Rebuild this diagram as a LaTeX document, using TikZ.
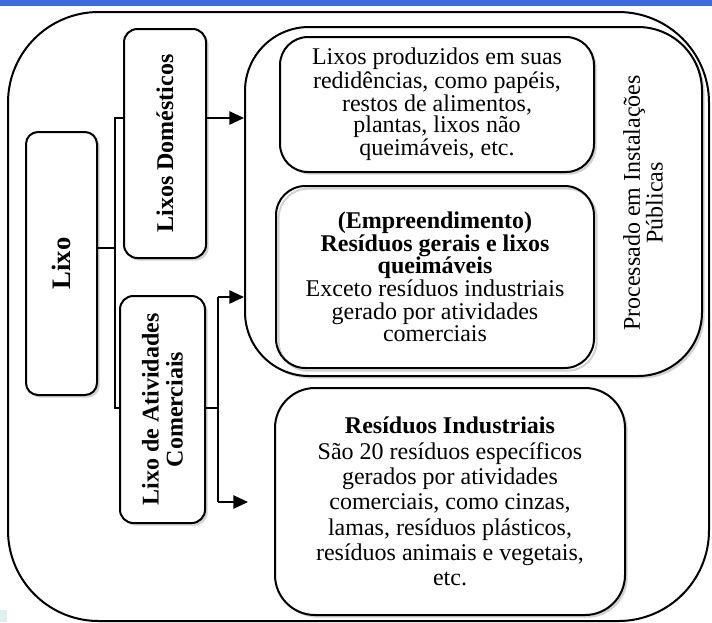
\documentclass[tikz,border=0pt]{standalone}
\usepackage{fontspec}
\setmainfont{Liberation Serif}
\usepackage{tikz}
\usetikzlibrary{shadows}
\usetikzlibrary{arrows.meta}

\definecolor{topblue}{RGB}{66,103,224}
\definecolor{patch}{RGB}{220,240,236}

\tikzset{
  box/.style={draw, line width=1.5pt, fill=white, rounded corners=#1,
    drop shadow={shadow xshift=2pt, shadow yshift=-2pt, fill=black!35}},
  ghostbox/.style={draw, line width=1.5pt, rounded corners=#1,
    drop shadow={shadow xshift=2pt, shadow yshift=-2pt, fill=none, draw=black!35, line width=1.5pt}},
  link/.style={line width=1.1pt},
  arrow/.style={line width=1.1pt, -{Triangle[length=11pt,width=10pt]}},
}

\begin{document}
\begin{tikzpicture}[x=0.75pt,y=0.75pt,yscale=-1,xscale=1]
\useasboundingbox (0,0) rectangle (712,622);

%Band on top
\fill[topblue] (0,0) rectangle (712,6);
%Patch bottom left
\fill[patch] (0,610) rectangle (7,622);

%Outer frame
\node[draw, line width=1.5pt, rounded corners=68pt, minimum width=525.75pt, minimum height=456.75pt] (frame) at (358.5,316.5) {};

%Rounded Rect: public processing
\node[box=48pt, minimum width=342.75pt, minimum height=261.75pt] (proc) at (473.5,201.5) {};
\node[rotate=90, align=center, font=\fontsize{18}{17}\selectfont] (proctxt) at (643,203) {Processado em Instalações\\Públicas};

%Rounded Rect: Lixo
\node[box=9pt, minimum width=53.25pt, minimum height=197.25pt] (lixo) at (61.5,263.5) {};
\node[rotate=90, font=\fontsize{20}{20}\selectfont\bfseries] (lixotxt) at (lixo) {Lixo};

%Rounded Rect: domestic
\node[box=10pt, minimum width=61.5pt, minimum height=171.75pt] (dom) at (165,143.5) {};
\node[rotate=90, font=\fontsize{18}{18}\selectfont\bfseries] (domtxt) at (dom) {Lixos Domésticos};

%Rounded Rect: commercial
\node[box=10pt, minimum width=63.75pt, minimum height=170.25pt] (com) at (162.5,409.5) {};
\node[rotate=90, align=center, font=\fontsize{18}{18}\selectfont\bfseries] (comtxt) at (com) {Lixo de Atividades\\Comerciais};

%Rounded Rect: households
\node[box=21pt, minimum width=235.5pt, minimum height=101.25pt, align=center, font=\fontsize{18}{16}\selectfont] (casa) at (437,104.5) {Lixos produzidos em suas\\redidências, como papéis,\\restos de alimentos,\\plantas, lixos não\\queimáveis, etc.};

%Rounded Rect: business
\node[ghostbox=22pt, minimum width=238.5pt, minimum height=136.5pt, align=center, font=\fontsize{18}{17}\selectfont] (empr) at (435,277) {\textbf{(Empreendimento)}\\\textbf{Resíduos gerais e lixos}\\\textbf{queimáveis}\\Exceto resíduos industriais\\gerado por atividades\\comerciais};

%Rounded Rect: industrial
\node[box=30pt, minimum width=262.5pt, minimum height=170.25pt, align=center, font=\fontsize{18}{19}\selectfont] (ind) at (450,501.5) {\textbf{Resíduos Industriais}\\São 20 resíduos específicos\\gerados por atividades\\comerciais, como cinzas,\\lamas, resíduos plásticos,\\resíduos animais e vegetais,\\etc.};

%Joints
\coordinate (jmid) at (115,248);
\coordinate (jtop) at (115,118);
\coordinate (jbot) at (115,408);
\coordinate (kmid) at (218,408);
\coordinate (ktop) at (218,297);
\coordinate (kbot) at (218,502);
\coordinate (indtip) at (248,502);

%Straight Lines
\draw[link] (lixo.east |- jmid) -- (jmid);
\draw[link] (dom.west |- jtop) -- (jtop) -- (jbot) -- (com.west |- jbot);
\draw[arrow] (dom.east |- jtop) -- (proc.west |- jtop);

\draw[link] (com.east |- kmid) -- (kmid);
\draw[link] (ktop) -- (kbot);
\draw[arrow] (ktop) -- (proc.west |- ktop);
\draw[arrow] (kbot) -- (indtip);

\end{tikzpicture}
\end{document}
